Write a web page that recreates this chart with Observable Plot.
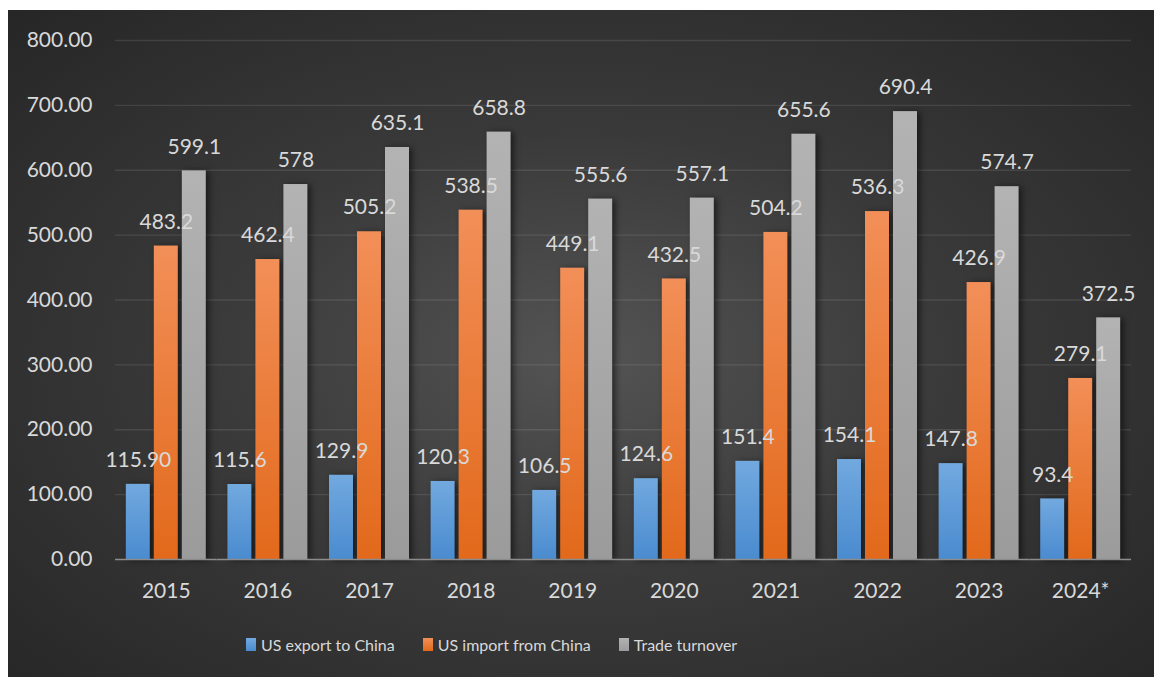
<!DOCTYPE html>
<html>
<head>
<meta charset="utf-8">
<script src="https://cdn.jsdelivr.net/npm/d3@7"></script>
<script src="https://cdn.jsdelivr.net/npm/@observablehq/plot@0.6"></script>
<style>
  html, body { margin: 0; padding: 0; background: #ffffff; }
  #frame {
    position: absolute; left: 8px; top: 10px; width: 1146px; height: 667px;
    background: radial-gradient(ellipse farthest-corner at 50% 52%, #545454 0%, #3a3a3a 45%, #262626 100%);
    overflow: hidden;
  }
  #chart { position: absolute; left: 0; top: 0; }
  g[aria-label="bar"] rect { filter: drop-shadow(3px 1px 3px rgba(0,0,0,0.55)); }
  #legend {
    position: absolute; left: 238px; top: 622px; height: 24px; display: flex; align-items: center;
    font-family: Lato, sans-serif; font-size: 16px; color: #d9d9d9;
  }
  .item { display: flex; align-items: center; margin-right: 28px; }
  .sw { width: 10px; height: 13px; margin-right: 5px; }
</style>
</head>
<body>
<div id="frame">
  <div id="chart"></div>
  <div id="legend"></div>
</div>
<script>
const years = ["2015","2016","2017","2018","2019","2020","2021","2022","2023","2024*"];
const seriesNames = ["US export to China", "US import from China", "Trade turnover"];
const exportToChina = [115.9, 115.6, 129.9, 120.3, 106.5, 124.6, 151.4, 154.1, 147.8, 93.4];
const importFromChina = [483.2, 462.4, 505.2, 538.5, 449.1, 432.5, 504.2, 536.3, 426.9, 279.1];
const tradeTurnover = [599.1, 578, 635.1, 658.8, 555.6, 557.1, 655.6, 690.4, 574.7, 372.5];
const yTicks = [0, 100, 200, 300, 400, 500, 600, 700, 800];
// label as printed in the source (first export value shown with two decimals)
const exportLabels = ["115.90","115.6","129.9","120.3","106.5","124.6","151.4","154.1","147.8","93.4"];

const gradients = [
  {id: "gBlue", top: "#72a9df", bottom: "#4a8bcf"},
  {id: "gOrange", top: "#f28f58", bottom: "#e2691b"},
  {id: "gGray", top: "#b3b3b3", bottom: "#9b9b9b"}
];

const seriesValues = [exportToChina, importFromChina, tradeTurnover];
const data = [];
years.forEach((yr, i) => {
  seriesValues.forEach((vals, s) => {
    data.push({
      year: yr,
      series: seriesNames[s],
      value: vals[i],
      label: s === 0 ? exportLabels[i] : String(vals[i])
    });
  });
});

const plot = Plot.plot({
  width: 1146,
  height: 600,
  marginLeft: 107,
  marginRight: 23,
  marginTop: 30,
  marginBottom: 51,
  style: {background: "transparent", color: "#d9d9d9", fontFamily: "Lato, sans-serif", fontSize: "21px", overflow: "visible"},
  fx: {domain: years, padding: 0, round: false, label: null, tickSize: 0, tickPadding: 24, axis: "bottom"},
  x: {domain: seriesNames, paddingInner: 0.143, paddingOuter: 0.386, round: false, axis: null},
  y: {domain: [0, 800], ticks: yTicks, tickFormat: d3.format(".2f"), label: null, tickSize: 0, tickPadding: 23},
  color: {domain: seriesNames, range: gradients.map(g => `url(#${g.id})`)},
  marks: [
    Plot.ruleY(yTicks.filter(t => t > 0), {stroke: "#ffffff", strokeOpacity: 0.1, strokeWidth: 1.3}),
    Plot.barY(data, {fx: "year", x: "series", y: "value", fill: "series"}),
    Plot.text(data, {fx: "year", x: "series", y: "value", text: "label", dy: -24, fill: "#d9d9d9", fontSize: 21}),
    Plot.ruleY([0], {stroke: "#8c8c8c", strokeWidth: 1.6})
  ]
});

// gradient definitions for the bar fills
const defs = d3.create("svg:defs");
gradients.forEach(g => {
  const lg = defs.append("linearGradient").attr("id", g.id).attr("x1", 0).attr("y1", 0).attr("x2", 0).attr("y2", 1);
  lg.append("stop").attr("offset", "0%").attr("stop-color", g.top);
  lg.append("stop").attr("offset", "100%").attr("stop-color", g.bottom);
});
plot.insertBefore(defs.node(), plot.firstChild);
document.getElementById("chart").appendChild(plot);

const legend = d3.select("#legend");
seriesNames.forEach((name, i) => {
  const it = legend.append("div").attr("class", "item");
  it.append("div").attr("class", "sw").style("background", `linear-gradient(${gradients[i].top}, ${gradients[i].bottom})`);
  it.append("span").text(name);
});
</script>
</body>
</html>
